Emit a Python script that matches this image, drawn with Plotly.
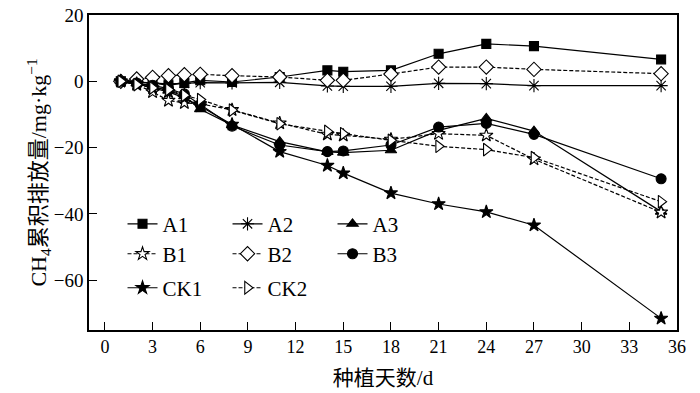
import plotly.graph_objects as go

days = [1, 2, 3, 4, 5, 6, 8, 11, 14, 15, 18, 21, 24, 27, 35]

A1 = [0, -0.3, -0.5, -1.2, -0.5, 0.3, -0.2, 1.3, 3.3, 2.9, 3.3, 8.3, 11.3, 10.6, 6.6]
A2 = [0, -0.3, -0.5, -0.8, -0.6, -0.4, -0.5, -0.3, -1.4, -1.5, -1.5, -0.6, -0.7, -1.3, -1.3]
A3 = [0, -0.6, -1.5, -2.8, -4.5, -8.4, -13.2, -18.2, -21.3, -21.5, -20.8, -14.8, -11.2, -15.0, -39.3]
B1 = [0, -1.0, -3.2, -5.8, -6.5, -6.8, -8.6, -12.6, -16.0, -16.3, -17.5, -15.8, -16.3, -23.5, -39.5]
B2 = [0, 0.7, 1.2, 1.7, 2.0, 2.1, 1.7, 1.3, 0.3, 0.3, 2.2, 4.3, 4.3, 3.6, 2.3]
B3 = [0, -0.5, -1.2, -2.2, -3.8, -7.0, -13.5, -19.2, -21.2, -21.0, -19.2, -13.8, -12.7, -16.0, -29.4]
CK1 = [0, -0.7, -2.0, -3.2, -5.0, -7.5, -13.0, -21.2, -25.4, -27.7, -33.7, -37.0, -39.4, -43.4, -71.5]
CK2 = [0, -1.0, -2.0, -2.5, -4.2, -5.5, -8.7, -12.8, -15.1, -15.8, -17.8, -19.6, -20.6, -23.0, -36.3]

x_ticks = list(range(0, 37, 3))
y_ticks = [-60, -40, -20, 0, 20]

FONT = "Liberation Serif, Times New Roman, Noto Sans CJK SC, serif"

series = [
    ("A1", A1, "square", 9, "black", "solid", "legend"),
    ("A2", A2, "asterisk-open", 11, "black", "solid", "legend"),
    ("A3", A3, "triangle-up", 10, "black", "solid", "legend"),
    ("B1", B1, "star", 10, "white", "4px,2px", "legend2"),
    ("B2", B2, "diamond", 11, "white", "4px,2px", "legend2"),
    ("B3", B3, "circle", 10, "black", "solid", "legend2"),
    ("CK1", CK1, "star", 10, "black", "solid", "legend3"),
    ("CK2", CK2, "triangle-right", 11, "white", "4px,2px", "legend3"),
]

fig = go.Figure()
for name, vals, sym, size, fill, dash, leg in series:
    fig.add_trace(go.Scatter(
        x=days, y=vals, name=name, mode="lines+markers",
        line=dict(color="black", width=1.2, dash=dash),
        marker=dict(symbol=sym, size=size, color=fill,
                    line=dict(color="black", width=1.1)),
        legend=leg,
    ))

leg_common = dict(orientation="h", xanchor="left", yanchor="middle",
                  bgcolor="rgba(0,0,0,0)", entrywidth=60, entrywidthmode="pixels",
                  font=dict(family=FONT, size=21, color="black"),
                  itemwidth=30, tracegroupgap=0)

fig.update_layout(
    width=700, height=393,
    margin=dict(l=89, r=23, t=15, b=63),
    paper_bgcolor="white", plot_bgcolor="white",
    font=dict(family=FONT, color="black", size=18),
    showlegend=True,
    legend=dict(x=0.057, y=0.336, **leg_common),
    legend2=dict(x=0.057, y=0.241, **leg_common),
    legend3=dict(x=0.057, y=0.133, **leg_common),
    xaxis=dict(
        range=[-1, 36], tickmode="array", tickvals=x_ticks, automargin=False,
        ticks="inside", ticklen=8, tickwidth=1.2, tickcolor="black",
        showline=True, linecolor="black", linewidth=1.5, mirror=True,
        showgrid=False, zeroline=False, ticklabeloverflow="allow",
        tickfont=dict(family=FONT, size=18, color="black"),
        title=dict(text="种植天数/d", font=dict(family=FONT, size=21, color="black"), standoff=14),
    ),
    yaxis=dict(
        range=[-75, 20], tickmode="array", tickvals=y_ticks, automargin=False,
        ticks="inside", ticklen=8, tickwidth=1.2, tickcolor="black",
        showline=True, linecolor="black", linewidth=1.5, mirror=True,
        showgrid=False, zeroline=False, ticklabeloverflow="allow",
        tickfont=dict(family=FONT, size=19, color="black"),
        title=dict(text="CH<sub>4</sub>累积排放量/mg·kg<sup>−1</sup>",
                   font=dict(family=FONT, size=22, color="black"), standoff=1),
    ),
)

fig.write_html("out.html", config={"displayModeBar": False},
               post_script="document.body.style.margin='0';")
